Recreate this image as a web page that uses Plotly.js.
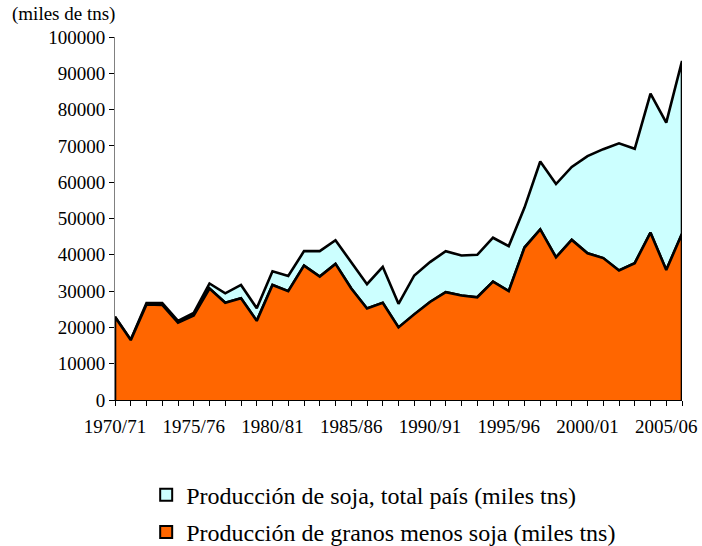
<!DOCTYPE html>
<html>
<head>
<meta charset="utf-8">
<script src="https://cdn.plot.ly/plotly-3.0.1.min.js"></script>
<style>
html,body{margin:0;padding:0;background:#fff;font-family:'Liberation Serif',serif;}
#chart{width:702px;height:546px;}
#chart svg text{font-family:'Liberation Serif','Times New Roman',serif !important;}
</style>
</head>
<body>
<div id="chart"></div>
<script>
const categories = ["1970/71","1971/72","1972/73","1973/74","1974/75","1975/76","1976/77","1977/78","1978/79","1979/80",
"1980/81","1981/82","1982/83","1983/84","1984/85","1985/86","1986/87","1987/88","1988/89","1989/90",
"1990/91","1991/92","1992/93","1993/94","1994/95","1995/96","1996/97","1997/98","1998/99","1999/00",
"2000/01","2001/02","2002/03","2003/04","2004/05","2005/06","2006/07"];
// Producción de granos menos soja (miles tns)
const granosMenosSoja = [22900,16500,26300,26200,21300,23300,30700,26800,28000,21800,
31700,30000,37000,34000,37500,30700,25200,26800,20000,23600,
27000,29700,28800,28300,32600,30000,42000,47000,39300,44100,
40400,39100,35700,37700,46100,35800,45800];
// Producción de soja, total país (miles tns)
const soja = [60,80,400,500,485,695,1400,2600,3700,3500,
3770,4150,4000,7000,6500,7100,6700,9900,6500,10700,
11000,11300,11000,11700,12100,12400,11000,18700,20200,20100,
26800,30000,35000,31500,38300,40600,47600];
const tickLabels = ["1970/71","1975/76","1980/81","1985/86","1990/91","1995/96","2000/01","2005/06"];
const seriesNames = ["Producción de soja, total país (miles tns)","Producción de granos menos soja (miles tns)"];

const total = granosMenosSoja.map((v,i)=>v+soja[i]);
const n = categories.length;

const xOrange = [categories[0], ...categories, categories[n-1]];
const yOrange = [0, ...granosMenosSoja, 0];
const xSoja = [...categories, ...categories.slice().reverse()];
const ySoja = [...total, ...granosMenosSoja.slice().reverse()];

const traces = [
  {x:xSoja, y:ySoja, type:'scatter', mode:'lines', fill:'toself', fillcolor:'#CCFFFF',
   line:{color:'#000', width:2.6}, showlegend:false, hoverinfo:'skip'},
  {x:xOrange, y:yOrange, type:'scatter', mode:'lines', fill:'toself', fillcolor:'#FF6600',
   line:{color:'#000', width:2.6}, showlegend:false, hoverinfo:'skip'},
  {x:[categories[0]], y:[null], type:'bar', name:seriesNames[0], legendgroup:'a',
   marker:{color:'#CCFFFF', line:{color:'#000', width:2}}},
  {x:[categories[0]], y:[null], type:'bar', name:seriesNames[1], legendgroup:'b',
   marker:{color:'#FF6600', line:{color:'#000', width:2}}}
];

const tickText = categories.map(c => tickLabels.includes(c) ? c : '');

const ff = 'Liberation Serif';
const layout = {
  width:702, height:546,
  font:{family:ff, color:'#000', size:19},
  margin:{l:115, r:20, t:37, b:146, autoexpand:false},
  paper_bgcolor:'#fff', plot_bgcolor:'#fff',
  showlegend:true,
  legend:{x:0.055, xanchor:'left', y:-0.2, yanchor:'top', orientation:'v',
    font:{family:ff, size:24, color:'#000'}, traceorder:'grouped', tracegroupgap:3},
  xaxis:{type:'category', categoryorder:'array', categoryarray:categories,
    range:[0, n-1], tickvals:categories, ticktext:tickText, ticks:'outside', ticklen:5,
    tickcolor:'#000', showline:true, linecolor:'#000', linewidth:1, showgrid:false,
    zeroline:false, tickangle:0, ticklabelstandoff:4,
    tickfont:{family:ff, size:19, color:'#000'}},
  yaxis:{range:[0,100000], dtick:10000, tick0:0, ticks:'outside', ticklen:5,
    tickcolor:'#000', showline:true, linecolor:'#808080', linewidth:1, showgrid:false,
    zeroline:false, tickfont:{family:ff, size:19, color:'#000'}, tickformat:'d'},
  annotations:[{text:'(miles de tns)', xref:'paper', yref:'paper', x:-0.185, y:1.0, yshift:10,
    xanchor:'left', yanchor:'bottom', showarrow:false, font:{family:ff, size:19, color:'#000'}}]
};
Plotly.newPlot('chart', traces, layout, {staticPlot:true});
</script>
</body>
</html>
